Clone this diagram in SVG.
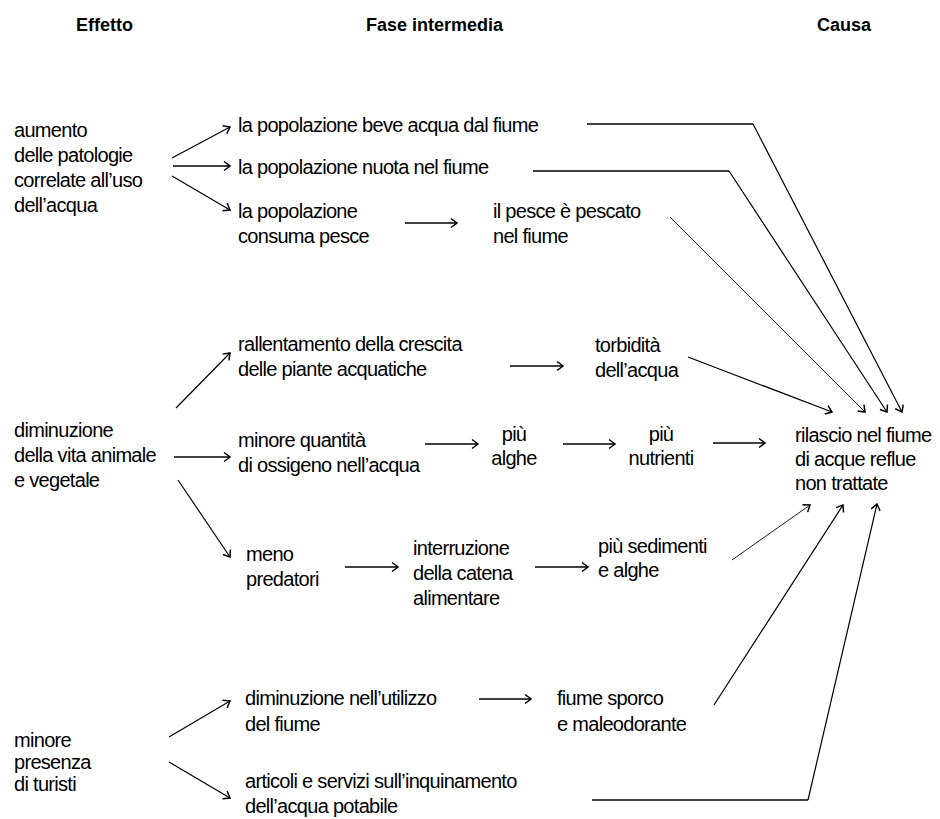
<svg xmlns="http://www.w3.org/2000/svg" width="940" height="819" viewBox="0 0 940 819">
<style>
text{font-family:"Liberation Sans",Arial,sans-serif;fill:#000}
.t{font-size:20px;letter-spacing:-0.7px}
.h{font-size:18px;font-weight:bold}
.m{text-anchor:middle}
.c{fill:none;stroke:#000;stroke-width:1.7}
.d{fill:none;stroke:#000;stroke-width:1.2}
.l{fill:none;stroke:#000;stroke-width:0.9}
</style>
<defs>
<marker id="ah" viewBox="-8 -6 10 12" markerWidth="10" markerHeight="12" refX="0" refY="0" orient="auto" markerUnits="userSpaceOnUse">
<path d="M-6,-4.5 L0,0 L-6,4.5" fill="none" stroke="#000" stroke-width="1.5"/>
</marker>
</defs>
<rect width="940" height="819" fill="#fff"/>
<g id="headers">
<text class="h" x="76" y="31">Effetto</text>
<text class="h" x="366" y="31">Fase intermedia</text>
<text class="h" x="817" y="31">Causa</text>
</g>
<g id="n1"><text class="t" x="14" y="137">aumento</text><text class="t" x="14" y="162">delle patologie</text><text class="t" x="14" y="187">correlate all’uso</text><text class="t" x="14" y="212">dell’acqua</text></g>
<g id="n2"><text class="t" x="238" y="132">la popolazione beve acqua dal fiume</text></g>
<g id="n3"><text class="t" x="238" y="174">la popolazione nuota nel fiume</text></g>
<g id="n4"><text class="t" x="238" y="218">la popolazione</text><text class="t" x="238" y="243">consuma pesce</text></g>
<g id="n5"><text class="t" x="493" y="218">il pesce è pescato</text><text class="t" x="493" y="243">nel fiume</text></g>
<g id="n6"><text class="t" x="238" y="351">rallentamento della crescita</text><text class="t" x="238" y="376">delle piante acquatiche</text></g>
<g id="n7"><text class="t" x="595" y="352">torbidità</text><text class="t" x="595" y="377">dell’acqua</text></g>
<g id="n8"><text class="t" x="14" y="437">diminuzione</text><text class="t" x="14" y="462">della vita animale</text><text class="t" x="14" y="487">e vegetale</text></g>
<g id="n9"><text class="t" x="238" y="447">minore quantità</text><text class="t" x="238" y="472">di ossigeno nell’acqua</text></g>
<g id="n10"><text class="t m" x="514" y="441">più</text><text class="t m" x="514" y="465">alghe</text></g>
<g id="n11"><text class="t m" x="661" y="441">più</text><text class="t m" x="661" y="465">nutrienti</text></g>
<g id="n12"><text class="t" x="795" y="442">rilascio nel fiume</text><text class="t" x="795" y="466">di acque reflue</text><text class="t" x="795" y="490">non trattate</text></g>
<g id="n13"><text class="t" x="246" y="561">meno</text><text class="t" x="246" y="586">predatori</text></g>
<g id="n14"><text class="t" x="413" y="555">interruzione</text><text class="t" x="413" y="580">della catena</text><text class="t" x="413" y="605">alimentare</text></g>
<g id="n15"><text class="t" x="598" y="553">più sedimenti</text><text class="t" x="598" y="577">e alghe</text></g>
<g id="n16"><text class="t" x="14" y="747">minore</text><text class="t" x="14" y="769">presenza</text><text class="t" x="14" y="791">di turisti</text></g>
<g id="n17"><text class="t" x="245" y="705">diminuzione nell’utilizzo</text><text class="t" x="245" y="731">del fiume</text></g>
<g id="n18"><text class="t" x="557" y="705">fiume sporco</text><text class="t" x="557" y="731">e maleodorante</text></g>
<g id="n19"><text class="t" x="245" y="788">articoli e servizi sull’inquinamento</text><text class="t" x="245" y="813">dell’acqua potabile</text></g>
<g id="connectors">
<path class="d" d="M172,158 L230,127" marker-end="url(#ah)"/>
<path class="c" d="M173,166 L230,166" marker-end="url(#ah)"/>
<path class="d" d="M172,176 L230,210" marker-end="url(#ah)"/>
<path class="c" d="M405,223 L457,223" marker-end="url(#ah)"/>
<path class="c" d="M587,124 L753,124"/>
<path class="d" d="M753,124 L902,412" marker-end="url(#ah)"/>
<path class="c" d="M533,171 L729,171"/>
<path class="d" d="M729,171 L887,412" marker-end="url(#ah)"/>
<path class="l" d="M670,217 L865,412" marker-end="url(#ah)"/>
<path class="d" d="M688,357 L832,412" marker-end="url(#ah)"/>
<path class="d" d="M176,408 L230,353" marker-end="url(#ah)"/>
<path class="c" d="M510,366 L563,366" marker-end="url(#ah)"/>
<path class="c" d="M174,457 L230,457" marker-end="url(#ah)"/>
<path class="c" d="M425,444 L478,444" marker-end="url(#ah)"/>
<path class="c" d="M563,444 L615,444" marker-end="url(#ah)"/>
<path class="c" d="M713,443 L765,443" marker-end="url(#ah)"/>
<path class="d" d="M178,480 L230,557" marker-end="url(#ah)"/>
<path class="c" d="M345,567 L398,567" marker-end="url(#ah)"/>
<path class="c" d="M535,567 L588,567" marker-end="url(#ah)"/>
<path class="l" d="M732,560 L810,505" marker-end="url(#ah)"/>
<path class="d" d="M714,705 L843,505" marker-end="url(#ah)"/>
<path class="c" d="M592,800 L808,800"/>
<path class="d" d="M808,800 L877,504" marker-end="url(#ah)"/>
<path class="d" d="M169,737 L230,701" marker-end="url(#ah)"/>
<path class="d" d="M169,762 L230,798" marker-end="url(#ah)"/>
<path class="c" d="M479,699 L531,699" marker-end="url(#ah)"/>
</g>
</svg>
